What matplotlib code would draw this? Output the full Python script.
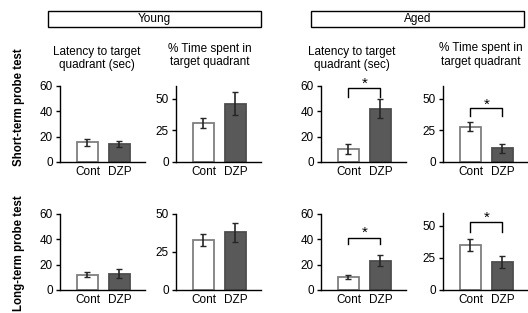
import matplotlib.pyplot as plt
from matplotlib.patches import Rectangle

plt.rcParams["font.family"] = ["Liberation Sans", "DejaVu Sans"]
plt.rcParams["font.size"] = 8.5

groups = ["Cont", "DZP"]

# short-term probe test
young_st_lat = [15.5, 14.0]
young_st_lat_err = [2.5, 2.5]
young_st_pct = [31.0, 46.0]
young_st_pct_err = [4.0, 9.0]
aged_st_lat = [10.5, 42.0]
aged_st_lat_err = [4.0, 7.5]
aged_st_pct = [28.0, 11.0]
aged_st_pct_err = [3.5, 3.5]

# long-term probe test
young_lt_lat = [12.0, 13.0]
young_lt_lat_err = [2.0, 3.5]
young_lt_pct = [33.0, 38.0]
young_lt_pct_err = [3.8, 6.3]
aged_lt_lat = [10.0, 23.0]
aged_lt_lat_err = [1.5, 4.3]
aged_lt_pct = [35.0, 22.0]
aged_lt_pct_err = [4.4, 4.6]

lat_ticks = [0, 20, 40, 60]
pct_ticks = [0, 25, 50]


def panel(ax, vals, errs, ylim, yticks, sig=None):
    x = [0, 1]
    ax.bar(x, vals, width=0.68, color=["white", "#595959"],
           edgecolor=["#7f7f7f", "#4d4d4d"], linewidth=1.3, zorder=2)
    ax.errorbar(x, vals, yerr=errs, fmt="none", ecolor="#262626",
                elinewidth=1.2, capsize=2.5, capthick=1.0, zorder=3)
    ax.set_xlim(-0.86, 1.8)
    ax.set_ylim(*ylim)
    ax.set_yticks(yticks)
    ax.set_xticks(x)
    ax.set_xticklabels(groups)
    ax.tick_params(axis="x", length=0, pad=3)
    ax.tick_params(axis="y", length=3, width=1, direction="out", pad=2)
    for s in ["top", "right"]:
        ax.spines[s].set_visible(False)
    for s in ["left", "bottom"]:
        ax.spines[s].set_linewidth(1.0)
    ax.patch.set_alpha(0)
    if sig is not None:
        top, leg, star = sig
        ax.plot([0, 0, 1, 1], [leg, top, top, leg], color="black",
                linewidth=1.0, clip_on=False)
        ax.text(0.5, star, "*", ha="center", va="center", fontsize=11,
                clip_on=False)


fig = plt.figure(figsize=(5.28, 3.13), dpi=100)
W, H = 528, 313


def axes_at(x0, x1, y_bottom, y_top):
    return fig.add_axes([x0 / W, (H - y_bottom) / H, (x1 - x0) / W,
                         (y_bottom - y_top) / H])


lefts = [60, 176, 321, 443]
width = 85

# top row
a = axes_at(lefts[0], lefts[0] + width, 162, 86)
panel(a, young_st_lat, young_st_lat_err, (0, 60), lat_ticks)
a = axes_at(lefts[1], lefts[1] + width, 162, 86)
panel(a, young_st_pct, young_st_pct_err, (0, 60), pct_ticks)
a = axes_at(lefts[2], lefts[2] + width, 162, 86)
panel(a, aged_st_lat, aged_st_lat_err, (0, 60), lat_ticks, sig=(58.2, 51.4, 61.5))
a = axes_at(lefts[3], lefts[3] + width, 162, 86)
panel(a, aged_st_pct, aged_st_pct_err, (0, 60), pct_ticks, sig=(42.5, 36.3, 45.5))

# bottom row
a = axes_at(lefts[0], lefts[0] + width, 290, 214)
panel(a, young_lt_lat, young_lt_lat_err, (0, 60), lat_ticks)
a = axes_at(lefts[1], lefts[1] + width, 290, 214)
panel(a, young_lt_pct, young_lt_pct_err, (0, 50), pct_ticks)
a = axes_at(lefts[2], lefts[2] + width, 290, 214)
panel(a, aged_lt_lat, aged_lt_lat_err, (0, 60), lat_ticks, sig=(40.8, 36.3, 45.5))
a = axes_at(lefts[3], lefts[3] + width, 290, 213)
panel(a, aged_lt_pct, aged_lt_pct_err, (0, 60), pct_ticks, sig=(52.7, 45.2, 56.5))

# header boxes
for x0, x1, label in [(48, 261, "Young"), (311, 524, "Aged")]:
    fig.patches.append(Rectangle((x0 / W, (H - 27) / H), (x1 - x0) / W, 16 / H,
                                 transform=fig.transFigure, fill=False,
                                 edgecolor="black", linewidth=1.0))
    fig.text((x0 + x1) / 2 / W, (H - 19) / H, label, ha="center", va="center",
             fontsize=8.5)

# panel titles
lat_title = "Latency to target\nquadrant (sec)"
pct_title = "% Time spent in\ntarget quadrant"
for xc, yc, t in [(96.5, 58.5, lat_title), (209.5, 55.5, pct_title),
                  (352, 58.5, lat_title), (480.5, 55, pct_title)]:
    fig.text(xc / W, (H - yc) / H, t, ha="center", va="center", fontsize=8.5,
             linespacing=1.2)

# row labels
fig.text(19 / W, (H - 107) / H, "Short-term probe test", rotation=90,
         ha="center", va="center", fontsize=8.3, fontweight="bold")
fig.text(19 / W, (H - 253) / H, "Long-term probe test", rotation=90,
         ha="center", va="center", fontsize=8.3, fontweight="bold")

fig.savefig("out.png", dpi=100)
